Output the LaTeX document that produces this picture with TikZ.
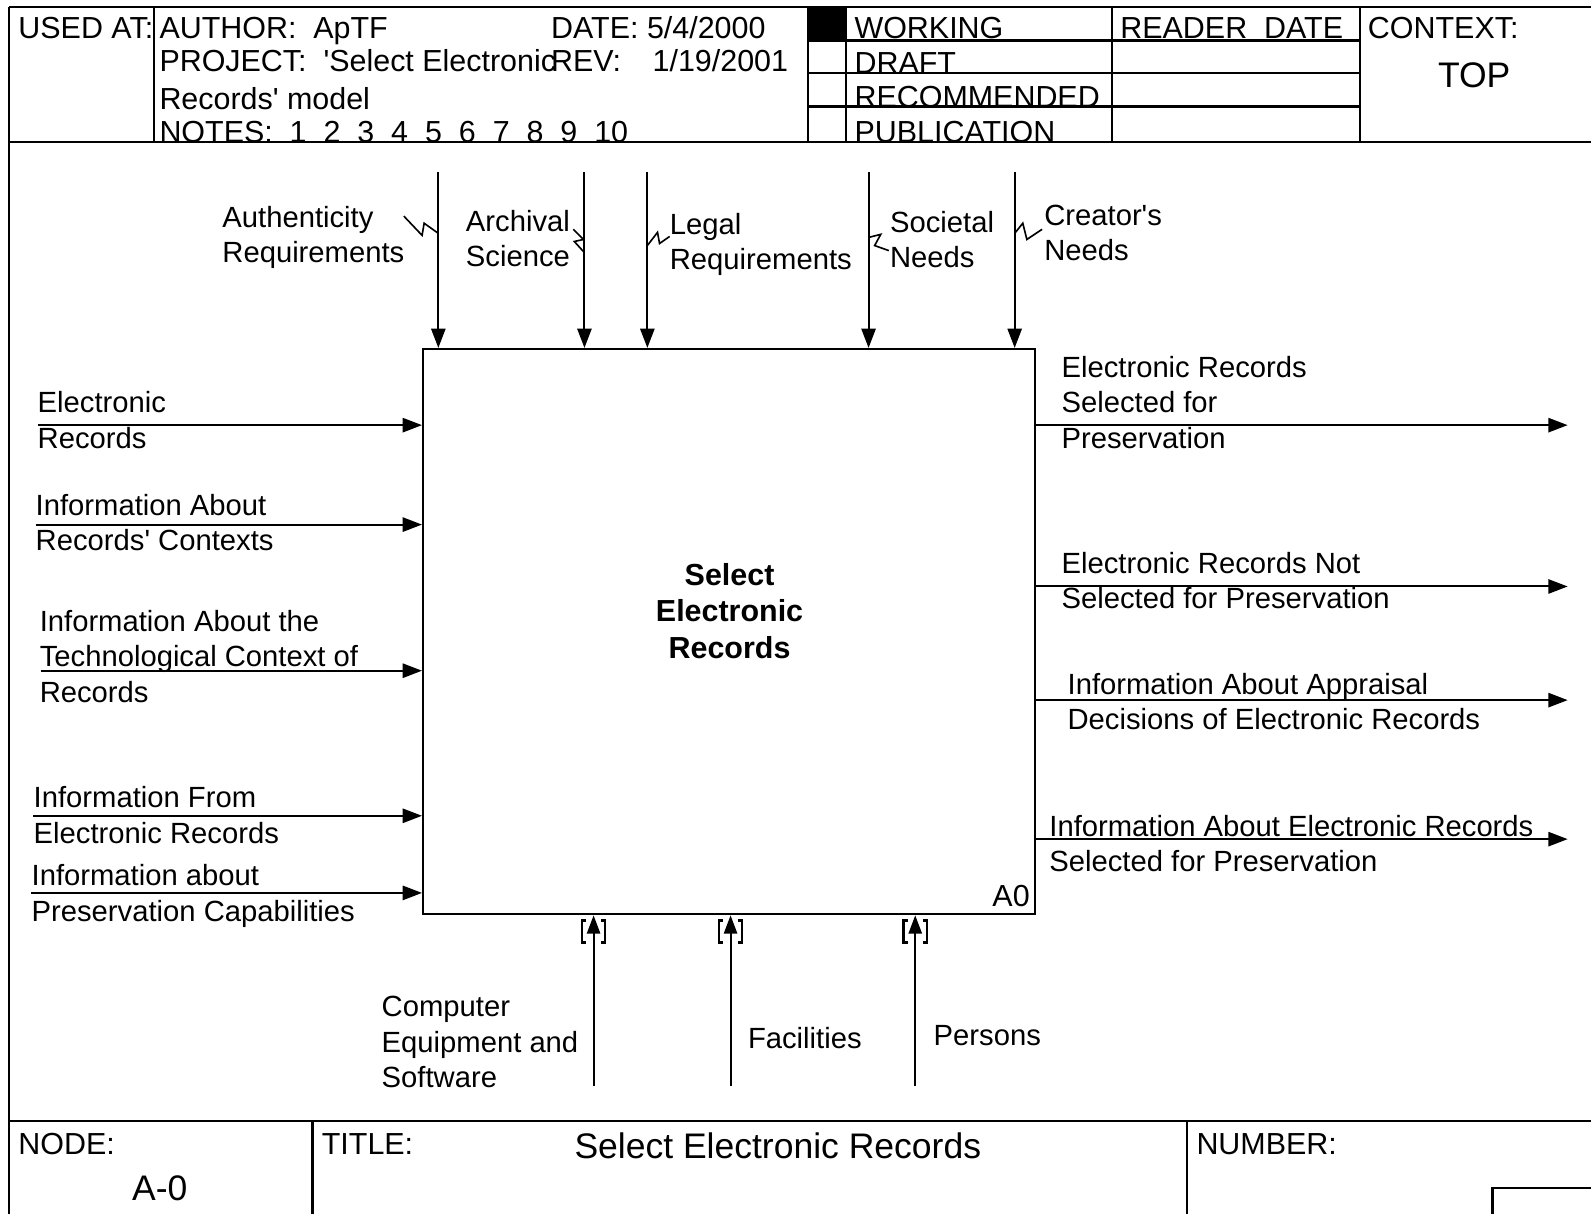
\documentclass[tikz,border=0pt]{standalone}
\usepackage{fontspec}
\setmainfont{Liberation Sans}
\usetikzlibrary{arrows.meta}
\newcommand\mlines[1]{\begin{tabular}[t]{@{}l@{}}#1\end{tabular}}
\newcommand\mlinesc[1]{\begin{tabular}[t]{@{}c@{}}#1\end{tabular}}
\newcommand\sq{\textquotesingle}
\tikzset{
  frameline/.style={line width=2.2pt},
  lbl/.style={anchor=base west, inner sep=0pt, font=\fontsize{28.8}{35}\selectfont},
  hdr/.style={anchor=base west, inner sep=0pt, font=\fontsize{30}{35}\selectfont},
  big/.style={anchor=base west, inner sep=0pt, font=\fontsize{35}{40}\selectfont},
  flow/.style={line width=2pt, -{Triangle[length=19pt,width=14pt]}},
  upflow/.style={line width=2pt, -{Triangle[length=18pt,width=13pt]}},
  squig/.style={line width=1.6pt, line join=miter},
  tunnel/.style={line width=2.4pt},
  actbox/.style={draw, line width=2.2pt, minimum width=603pt, minimum height=557pt, inner sep=0pt},
}
\begin{document}
\begin{tikzpicture}[x=1pt, y=-1pt]
\useasboundingbox (0,0) rectangle (1568,1196);

% ---------- frame ----------
\draw[frameline] (9,7) -- (1568,7);
\draw[frameline] (9,7) -- (9,1196);
\draw[frameline] (9,140) -- (1568,140);
\draw[frameline] (152,7) -- (152,140);
\draw[frameline] (796,7) -- (796,140);
\draw[frameline] (834,7) -- (834,140);
\draw[frameline] (1096,7) -- (1096,140);
\draw[frameline] (1340,7) -- (1340,140);
\draw[frameline] (796,40) -- (1340,40);
\draw[frameline] (796,72) -- (1340,72);
\draw[frameline] (796,105) -- (1340,105);
\fill (797,8) rectangle (833,40);
\draw[frameline] (9,1105) -- (1568,1105);
\draw[frameline] (308,1105) -- (308,1196);
\draw[frameline] (1170,1105) -- (1170,1196);
\draw[frameline] (1471,1196) -- (1471,1171) -- (1568,1171);

% ---------- header text ----------
\node[hdr] (usedat) at (18,38) {USED AT:};
\node[hdr] (author) at (157,38) {AUTHOR:\ \ ApTF};
\node[hdr] (date) at (543,38) {DATE: 5/4/2000};
\node[hdr] (project) at (157,70) {PROJECT:\ \ \sq Select Electronic};
\node[hdr] (rev) at (543,70) {REV:};
\node[hdr] (revdate) at (643,70) {1/19/2001};
\node[hdr] (model) at (157,108) {Records\sq{} model};
\node[hdr] (notes) at (157,140) {NOTES:\ \ 1\ \ 2\ \ 3\ \ 4\ \ 5\ \ 6\ \ 7\ \ 8\ \ 9\ \ 10};
\node[hdr] (working) at (842,38) {WORKING};
\node[hdr] (draft) at (842,72) {DRAFT};
\node[hdr] (recommended) at (842,106) {RECOMMENDED};
\node[hdr] (publication) at (842,140) {PUBLICATION};
\node[hdr] (reader) at (1104,38) {READER\ \ DATE};
\node[hdr] (context) at (1348,38) {CONTEXT:};
\node[big] (top) at (1417,86) {TOP};

% ---------- footer text ----------
\node[hdr] (nodelbl) at (18,1138) {NODE:};
\node[big] (nodeval) at (130,1183) {A-0};
\node[hdr] (titlelbl) at (317,1138) {TITLE:};
\node[big] (titleval) at (566,1142) {Select Electronic Records};
\node[hdr] (numberlbl) at (1179,1138) {NUMBER:};

% ---------- activity box ----------
\node[actbox] (box) at (718.5,622.5) {};
\node[anchor=base, inner sep=0pt, font=\fontsize{30}{36}\bfseries\selectfont] (boxlabel) at (719,577) {\mlinesc{Select\\Electronic\\Records}};
\node[hdr, anchor=base east] (boxnum) at (1015,893) {A0};

% ---------- controls (top) ----------
\coordinate (c1) at (432,170);
\coordinate (c2) at (576,170);
\coordinate (c3) at (638,170);
\coordinate (c4) at (856,170);
\coordinate (c5) at (1000,170);
\foreach \c in {c1,c2,c3,c4,c5} \draw[flow] (\c) -- (\c |- box.north);

\node[lbl] (lc1) at (219,224) {\mlines{Authenticity\\Requirements}};
\node[lbl] (lc2) at (459,228) {\mlines{Archival\\Science}};
\node[lbl] (lc3) at (660,231) {\mlines{Legal\\Requirements}};
\node[lbl] (lc4) at (877,229) {\mlines{Societal\\Needs}};
\node[lbl] (lc5) at (1029,222) {\mlines{Creator\sq s\\Needs}};

\draw[squig] (398,213) -- (416,232) -- (418,220) -- (432,230);
\draw[squig] (565,226) -- (575,236) -- (566,238) -- (576,249);
\draw[squig] (638,242) -- (648,229) -- (650,240) -- (660,233);
\draw[squig] (856,234) -- (868,231) -- (862,242) -- (876,247);
\draw[squig] (1000,230) -- (1008,220) -- (1012,236) -- (1027,226);

% ---------- inputs (left) ----------
\coordinate (i1) at (37,419);
\coordinate (i2) at (35,517);
\coordinate (i3) at (40,661);
\coordinate (i4) at (33,804);
\coordinate (i5) at (31,880);
\foreach \i in {i1,i2,i3,i4,i5} \draw[flow] (\i) -- (\i -| box.west);

\node[lbl] (li1) at (37,407) {\mlines{Electronic\\Records}};
\node[lbl] (li2) at (35,508) {\mlines{Information About\\Records\sq{} Contexts}};
\node[lbl] (li3) at (39,622) {\mlines{Information About the\\Technological Context of\\Records}};
\node[lbl] (li4) at (33,796) {\mlines{Information From\\Electronic Records}};
\node[lbl] (li5) at (31,873) {\mlines{Information about\\Preservation Capabilities}};

% ---------- outputs (right) ----------
\coordinate (o1) at (1545,419);
\coordinate (o2) at (1545,578);
\coordinate (o3) at (1545,690);
\coordinate (o4) at (1545,827);
\foreach \o in {o1,o2,o3,o4} \draw[flow] (\o -| box.east) -- (\o);

\node[lbl] (lo1) at (1046,372) {\mlines{Electronic Records\\Selected for\\Preservation}};
\node[lbl] (lo2) at (1046,565) {\mlines{Electronic Records Not\\Selected for Preservation}};
\node[lbl] (lo3) at (1052,684) {\mlines{Information About Appraisal\\Decisions of Electronic Records}};
\node[lbl] (lo4) at (1034,824) {\mlines{Information About Electronic Records\\Selected for Preservation}};

% ---------- mechanisms (bottom) ----------
\coordinate (m1) at (585,1070);
\coordinate (m2) at (720,1070);
\coordinate (m3) at (902,1070);
\foreach \m in {m1,m2,m3} {
  \draw[upflow] (\m) -- (\m |- box.south);
  \draw[tunnel] ([xshift=-7.5pt]\m |- 0,907) -- ([xshift=-11.5pt]\m |- 0,907) -- ([xshift=-11.5pt]\m |- 0,929) -- ([xshift=-7.5pt]\m |- 0,929);
  \draw[tunnel] ([xshift=7.5pt]\m |- 0,907) -- ([xshift=11.5pt]\m |- 0,907) -- ([xshift=11.5pt]\m |- 0,929) -- ([xshift=7.5pt]\m |- 0,929);
}

\node[lbl] (lm1) at (376,1002) {\mlines{Computer\\Equipment and\\Software}};
\node[lbl] (lm2) at (737,1033) {Facilities};
\node[lbl] (lm3) at (920,1030) {Persons};
\end{tikzpicture}
\end{document}
